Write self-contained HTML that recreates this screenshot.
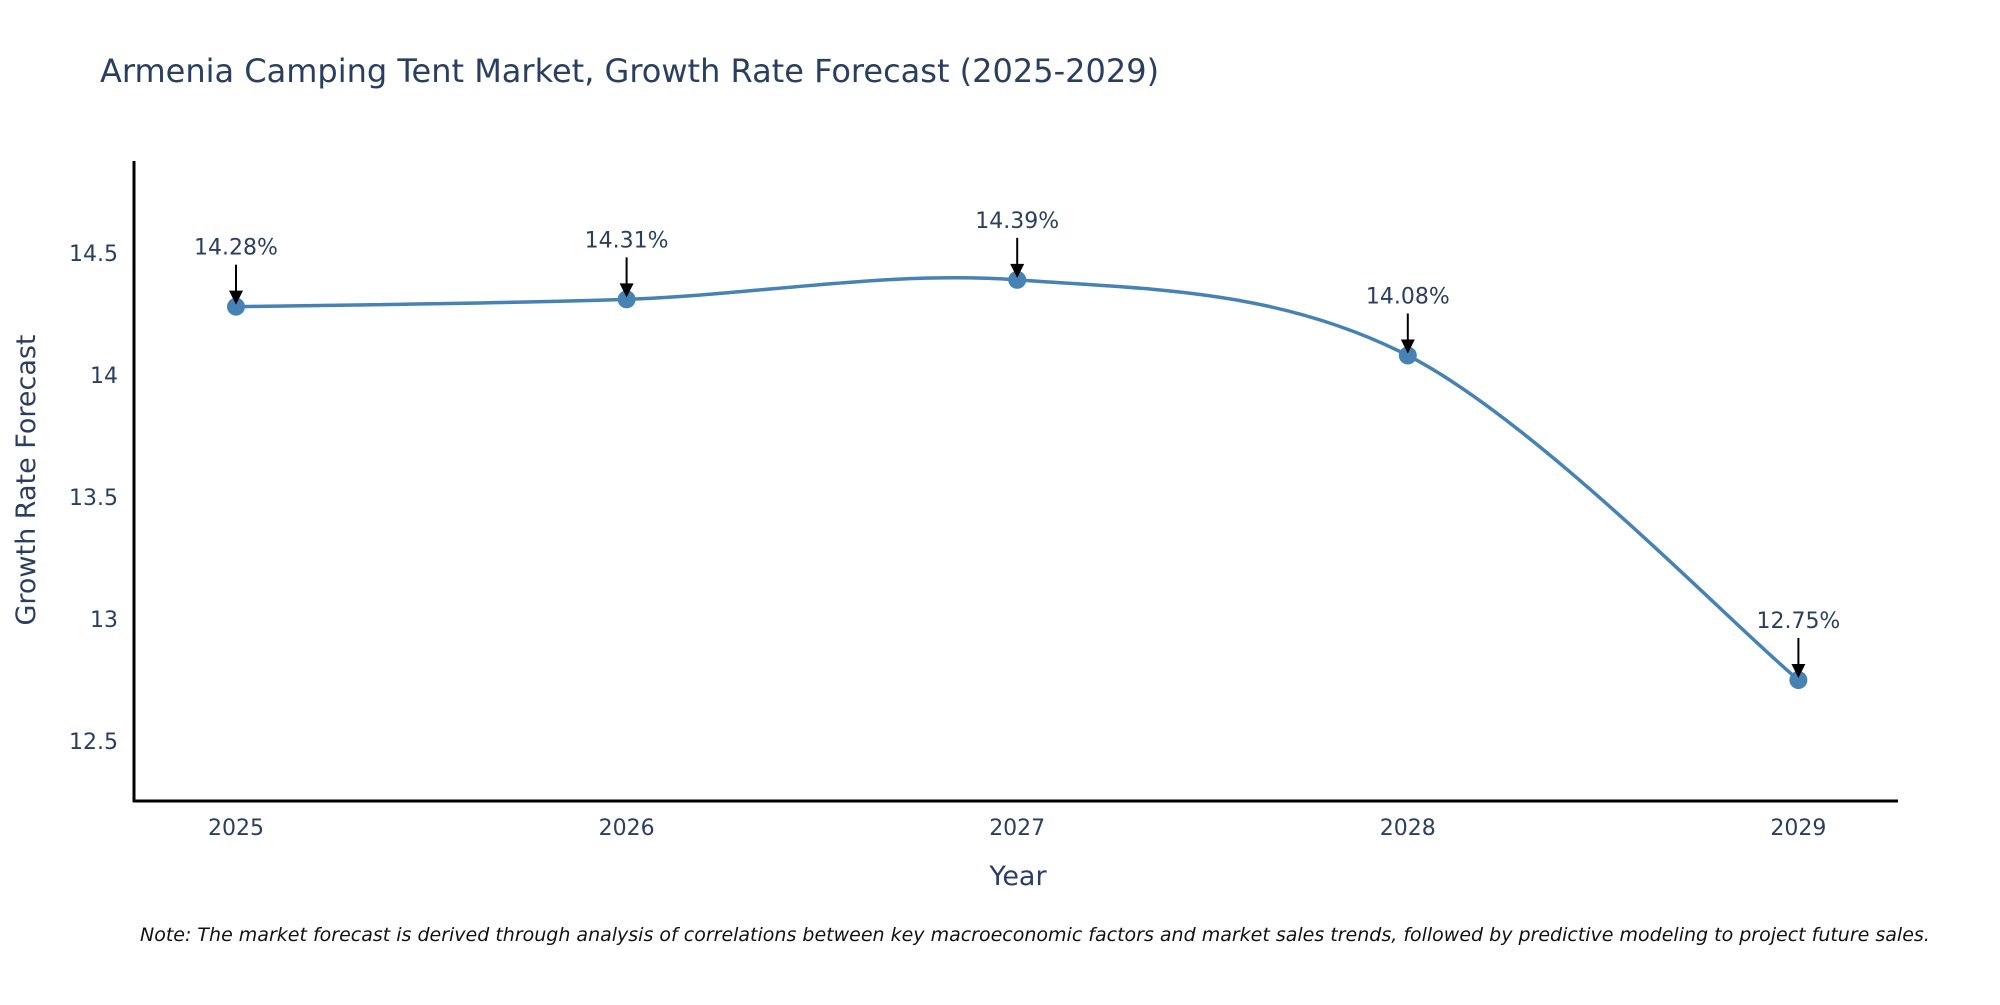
<!DOCTYPE html>
<html><head><meta charset="utf-8"><style>
body{margin:0;background:#fff;}
svg text{font-family:"DejaVu Sans","Liberation Sans",sans-serif;fill:#2a3f5f;}
</style></head><body>
<svg id="chart" width="2000" height="1000" xmlns="http://www.w3.org/2000/svg">
<text x="100" y="82" font-size="32">Armenia Camping Tent Market, Growth Rate Forecast (2025-2029)</text>
<g id="yticks"></g>
<g id="xticks"></g>
<line x1="134" y1="161" x2="134" y2="802" stroke="#000" stroke-width="3"/>
<line x1="133" y1="801" x2="1898" y2="801" stroke="#000" stroke-width="3"/>
<g id="series"></g>
<g id="annots"></g>
<text x="1018" y="885" font-size="27" text-anchor="middle">Year</text>
<text transform="translate(35,480) rotate(-90)" font-size="27" text-anchor="middle">Growth Rate Forecast</text>
<text x="140" y="941" font-size="19" font-style="italic" style="fill:#111">Note: The market forecast is derived through analysis of correlations between key macroeconomic factors and market sales trends, followed by predictive modeling to project future sales.</text>
</svg>
<script>
const years = [2025, 2026, 2027, 2028, 2029];
const values = [14.28, 14.31, 14.39, 14.08, 12.75];
const labels = ["14.28%", "14.31%", "14.39%", "14.08%", "12.75%"];
const yTicks = [12.5, 13, 13.5, 14, 14.5];
const yTickLabels = ["12.5", "13", "13.5", "14", "14.5"];

const NS = "http://www.w3.org/2000/svg";
function xs(v){return 236 + (v-2025)*390.6;}
function ys(v){return 253 + (14.5-v)*244;}
function mk(tag, attrs, parent){const e=document.createElementNS(NS,tag);for(const k in attrs)e.setAttribute(k,attrs[k]);parent.appendChild(e);return e;}

const yg=document.getElementById('yticks');
yTicks.forEach((t,i)=>{
  const e=mk('text',{x:118,y:ys(t)+8,'font-size':22,'text-anchor':'end'},yg);
  
  
  e.textContent=yTickLabels[i];
});
const xg=document.getElementById('xticks');
years.forEach(y=>{
  const e=mk('text',{x:xs(y),y:835,'font-size':22,'text-anchor':'middle'},xg);
  
  
  e.textContent=String(y);
});

const pts=years.map((y,i)=>[xs(y),ys(values[i])]);
let d='M'+pts[0][0]+','+pts[0][1];
const s=1/3;
for(let i=0;i<pts.length-1;i++){
  const p0=pts[Math.max(0,i-1)],p1=pts[i],p2=pts[i+1],p3=pts[Math.min(pts.length-1,i+2)];
  const c1=[p1[0]+(p2[0]-p0[0])*s/2,p1[1]+(p2[1]-p0[1])*s/2];
  const c2=[p2[0]-(p3[0]-p1[0])*s/2,p2[1]-(p3[1]-p1[1])*s/2];
  d+=' C'+c1+' '+c2+' '+p2;
}
const sg=document.getElementById('series');
const line=mk('path',{d:d,fill:'none',stroke:'#4682B4','stroke-width':3.5},sg);


const ag=document.getElementById('annots');
pts.forEach((p,i)=>{
  const c=mk('circle',{cx:p[0],cy:p[1],r:9,fill:'#4682B4'},sg);
  
  
  const a=mk('line',{x1:p[0],y1:p[1]-42,x2:p[0],y2:p[1]-14,stroke:'#000','stroke-width':2},ag);
  
  
  const h=mk('polygon',{points:(p[0]-7)+','+(p[1]-16)+' '+(p[0]+7)+','+(p[1]-16)+' '+p[0]+','+(p[1]-2),fill:'#000'},ag);
  
  
  const t=mk('text',{x:p[0],y:p[1]-52,'font-size':22,'text-anchor':'middle'},ag);
  
  
  t.textContent=labels[i];
});
</script>
</body></html>
